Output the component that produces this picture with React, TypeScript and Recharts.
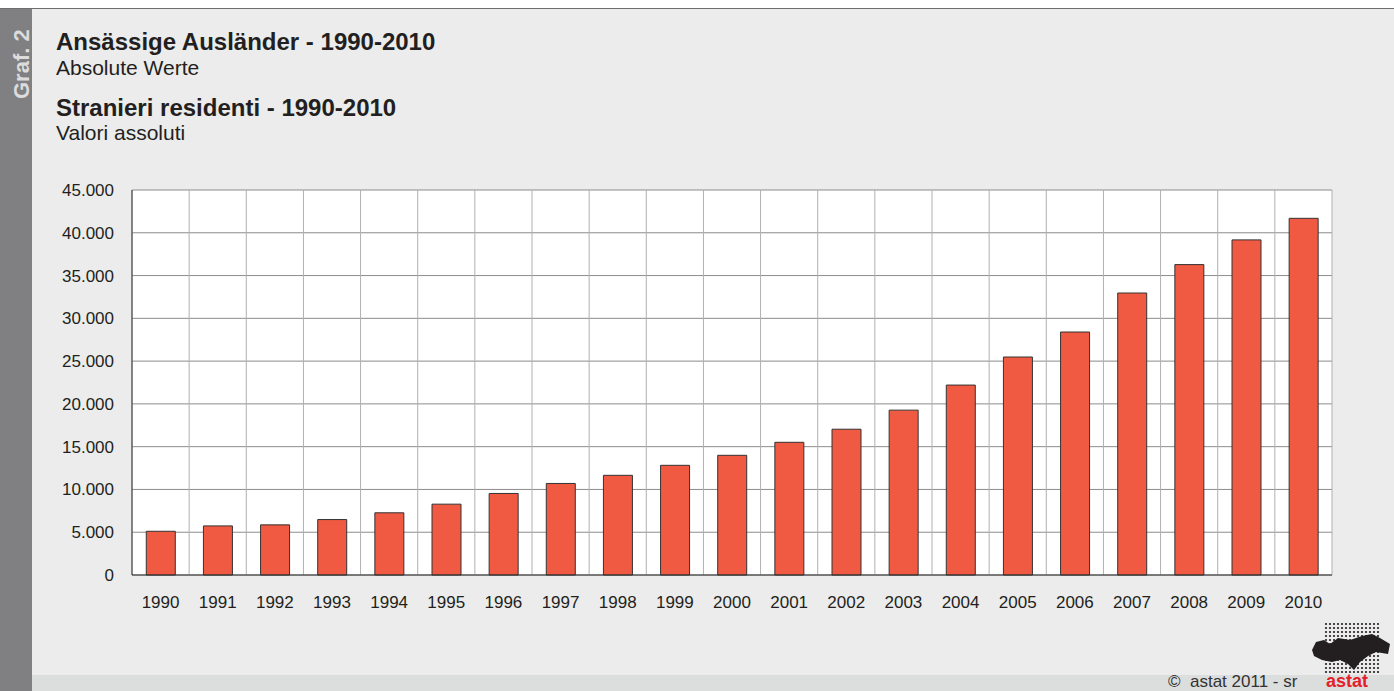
import { BarChart, Bar, XAxis, YAxis, CartesianGrid } from 'recharts';

const years = [
  '1990', '1991', '1992', '1993', '1994', '1995', '1996', '1997', '1998', '1999', '2000',
  '2001', '2002', '2003', '2004', '2005', '2006', '2007', '2008', '2009', '2010',
];
const residents = [
  5110, 5740, 5860, 6480, 7270, 8280, 9530, 10700, 11650, 12820, 13990,
  15510, 17040, 19270, 22200, 25480, 28400, 32960, 36280, 39170, 41690,
];
const yTicks = [0, 5000, 10000, 15000, 20000, 25000, 30000, 35000, 40000, 45000];

const FONT = '"Liberation Sans", Arial, sans-serif';
const TEXT = '#231f20';

const data = years.map((year, i) => ({ year, value: residents[i] }));

// German thousands separator
const fmt = (v: number) => String(v).replace(/\B(?=(\d{3})+(?!\d))/g, '.');

function Logo() {
  // dotted map of the astat logo, decoration only
  const dots = [];
  for (let r = 0; r < 13; r++) {
    for (let c = 0; c < 14; c++) {
      dots.push(<circle key={`${r}-${c}`} cx={16 + c * 4} cy={4 + r * 4} r={1.1} fill="#231f20" />);
    }
  }
  return (
    <svg width={82} height={54} style={{ position: 'absolute', left: 1310, top: 620 }}>
      {dots}
      <path
        d="M2 30 L6 22 L14 20 L20 24 L28 18 L40 20 L52 16 L62 14 L70 18 L80 24 L78 34 L66 32 L58 36 L50 42 L44 50 L38 44 L30 40 L22 42 L12 40 L4 36 Z"
        fill="#231f20"
      />
    </svg>
  );
}

export default function App() {
  return (
    <div style={{ position: 'absolute', left: 0, top: 0, width: 1394, height: 691, background: '#fff', overflow: 'hidden', fontFamily: FONT }}>
      <div style={{ position: 'absolute', left: 0, top: 8, width: 1394, height: 683, background: '#ebeceb', borderTop: '1px solid #6d6e70' }} />
      <div style={{ position: 'absolute', left: 0, top: 9, width: 32, height: 682, background: '#808083' }} />
      <div
        style={{
          position: 'absolute', left: 11, top: 99, transform: 'rotate(-90deg)', transformOrigin: '0 0',
          color: '#dcdcdc', fontWeight: 'bold', fontSize: 22, lineHeight: '22px', whiteSpace: 'nowrap',
        }}
      >
        Graf. 2
      </div>
      <div style={{ position: 'absolute', left: 32, top: 675, width: 1362, height: 16, background: '#dcdddd' }} />

      <div style={{ position: 'absolute', left: 56, top: 30, color: TEXT, whiteSpace: 'nowrap' }}>
        <div style={{ fontWeight: 'bold', fontSize: 24, lineHeight: '24px' }}>Ansässige Ausländer - 1990-2010</div>
        <div style={{ fontSize: 21, lineHeight: '21px', marginTop: 3 }}>Absolute Werte</div>
        <div style={{ fontWeight: 'bold', fontSize: 24, lineHeight: '24px', marginTop: 18 }}>Stranieri residenti - 1990-2010</div>
        <div style={{ fontSize: 21, lineHeight: '21px', marginTop: 2 }}>Valori assoluti</div>
      </div>

      <div style={{ position: 'absolute', left: 0, top: 0 }}>
        <BarChart
          width={1394}
          height={691}
          data={data}
          margin={{ top: 190, right: 62, bottom: 76, left: 0 }}
          barCategoryGap="25%"
        >
          <CartesianGrid horizontal vertical={false} stroke="#8c8c8c" fill="#fff" />
          <CartesianGrid
            horizontal={false}
            stroke="#b0b0b0"
            verticalCoordinatesGenerator={({ offset }: any) =>
              Array.from({ length: years.length + 1 }, (_, i) => offset.left + (offset.width * i) / years.length)
            }
          />
          <XAxis
            dataKey="year"
            height={40}
            tickLine={false}
            tickSize={6}
            tickMargin={15}
            interval={0}
            axisLine={{ stroke: '#333' }}
            tick={{ fontSize: 17, fill: TEXT, fontFamily: FONT }}
          />
          <XAxis xAxisId="top" dataKey="year" orientation="top" height={0} tick={false} tickLine={false} axisLine={{ stroke: '#333' }} />
          <YAxis
            width={132}
            domain={[0, 45000]}
            ticks={yTicks}
            tickFormatter={fmt}
            tickLine={false}
            tickSize={6}
            tickMargin={12}
            axisLine={{ stroke: '#333' }}
            tick={{ fontSize: 17, fill: TEXT, fontFamily: FONT }}
          />
          <YAxis yAxisId="right" orientation="right" width={0} domain={[0, 45000]} tick={false} tickLine={false} axisLine={{ stroke: '#333' }} />
          <Bar dataKey="value" fill="#f05a42" stroke="#333" strokeWidth={1} isAnimationActive={false} />
        </BarChart>
      </div>

      <Logo />
      <div style={{ position: 'absolute', left: 1168, top: 673, fontSize: 17, lineHeight: '17px', color: '#333', whiteSpace: 'nowrap' }}>
        ©&nbsp; astat 2011 - sr
      </div>
      <div style={{ position: 'absolute', left: 1326, top: 672, fontSize: 18, lineHeight: '18px', color: '#e4202a', fontWeight: 'bold' }}>
        astat
      </div>
    </div>
  );
}
